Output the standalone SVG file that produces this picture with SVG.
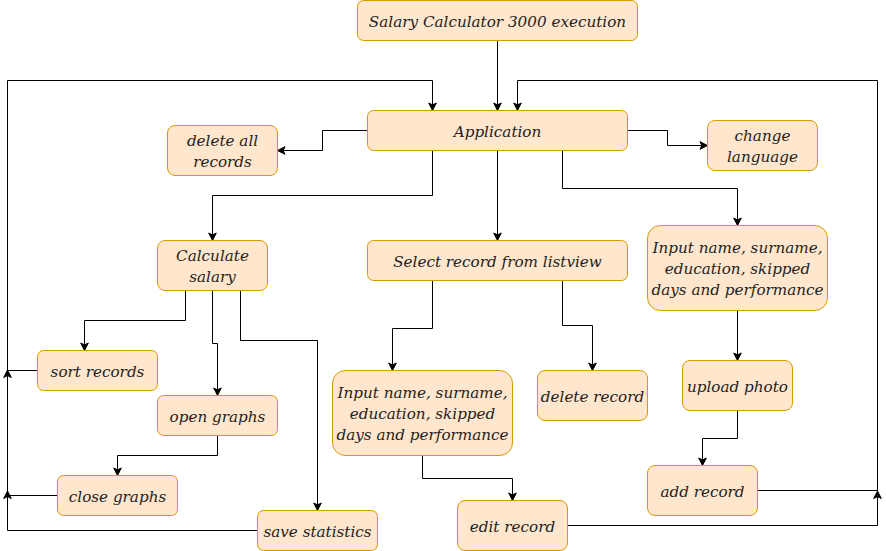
<svg xmlns="http://www.w3.org/2000/svg" width="886" height="551" viewBox="0 0 886 551">
<defs>
<marker id="arr" markerUnits="userSpaceOnUse" markerWidth="12" markerHeight="12" viewBox="-9 -6 12 12" refX="0" refY="0" orient="auto">
<path d="M0,0 L-7.5,-3.8 L-5.6,0 L-7.5,3.8 Z" fill="#000" stroke="#000" stroke-width="1"/>
</marker>
<style>
.n rect{fill:#ffe6cc;stroke:#d79b00;stroke-width:1}
.n text{font-family:"DejaVu Serif","Liberation Serif",serif;font-style:italic;font-size:15.2px;fill:#1e1e1e;text-anchor:middle}
#edges path{fill:none;stroke:#000;stroke-width:1;marker-end:url(#arr)}
</style>
</defs>
<rect width="886" height="551" fill="#fff"/>
<g id="edges">
<path d="M497.5,40.5 V110.5"/>
<path d="M257.5,530.5 H7.5 V80.5 H432.5 V110.5"/>
<path d="M757.5,490.5 H877.5 V80.5 H517.5 V110.5"/>
<path d="M367.5,130.5 H322.5 V150.5 H277.5"/>
<path d="M627.5,130.5 H667.5 V145.5 H707.5"/>
<path d="M432.5,150.5 V195.5 H212.5 V240.5"/>
<path d="M497.5,150.5 V240.5"/>
<path d="M562.5,150.5 V188.5 H737.5 V225.5"/>
<path d="M432.5,280.5 V328.5 H392.5 V370.5"/>
<path d="M562.5,280.5 V325.5 H592.5 V370.5"/>
<path d="M422.5,455.5 V478.5 H512.5 V500.5"/>
<path d="M737.5,310.5 V360.5"/>
<path d="M737.5,410.5 V438.5 H702.5 V465.5"/>
<path d="M185.5,290.5 V320.5 H84.5 V350.5"/>
<path d="M212.5,290.5 V343.5 H217.5 V395.5"/>
<path d="M240.5,290.5 V340.5 H317.5 V510.5"/>
<path d="M217.5,435.5 V455.5 H117.5 V475.5"/>
<path d="M37.5,370.5 H7.5 V370"/>
<path d="M57.5,495.5 H7.5 V491"/>
<path d="M567.5,525.5 H877.5 V491"/>
</g>
<g id="title" class="n"><rect x="357.5" y="0.5" width="280" height="40" rx="6"/><text x="497.5" y="26.5">Salary Calculator 3000 execution</text></g>
<g id="application" class="n"><rect x="367.5" y="110.5" width="260" height="40" rx="6"/><text x="497.5" y="136.5">Application</text></g>
<g id="delete-all" class="n"><rect x="167.5" y="125.5" width="110" height="50" rx="7.5"/><text x="222.5" y="146">delete all</text><text x="222.5" y="167">records</text></g>
<g id="change-language" class="n"><rect x="707.5" y="120.5" width="110" height="50" rx="7.5"/><text x="762.5" y="141">change</text><text x="762.5" y="162">language</text></g>
<g id="calculate-salary" class="n"><rect x="157.5" y="240.5" width="110" height="50" rx="7.5"/><text x="212.5" y="261">Calculate</text><text x="212.5" y="282">salary</text></g>
<g id="select-record" class="n"><rect x="367.5" y="240.5" width="260" height="40" rx="6"/><text x="497.5" y="266.5">Select record from listview</text></g>
<g id="input-new" class="n"><rect x="647.5" y="225.5" width="180" height="85" rx="12.75"/><text x="737.5" y="253">Input name, surname,</text><text x="737.5" y="274">education, skipped</text><text x="737.5" y="295">days and performance</text></g>
<g id="sort-records" class="n"><rect x="37.5" y="350.5" width="120" height="40" rx="6"/><text x="97.5" y="376.5">sort records</text></g>
<g id="open-graphs" class="n"><rect x="157.5" y="395.5" width="120" height="40" rx="6"/><text x="217.5" y="421.5">open graphs</text></g>
<g id="close-graphs" class="n"><rect x="57.5" y="475.5" width="120" height="40" rx="6"/><text x="117.5" y="501.5">close graphs</text></g>
<g id="save-statistics" class="n"><rect x="257.5" y="510.5" width="120" height="40" rx="6"/><text x="317.5" y="536.5">save statistics</text></g>
<g id="input-edit" class="n"><rect x="332.5" y="370.5" width="180" height="85" rx="12.75"/><text x="422.5" y="398">Input name, surname,</text><text x="422.5" y="419">education, skipped</text><text x="422.5" y="440">days and performance</text></g>
<g id="delete-record" class="n"><rect x="537.5" y="370.5" width="110" height="50" rx="7.5"/><text x="592.5" y="401.5">delete record</text></g>
<g id="edit-record" class="n"><rect x="457.5" y="500.5" width="110" height="50" rx="7.5"/><text x="512.5" y="531.5">edit record</text></g>
<g id="upload-photo" class="n"><rect x="682.5" y="360.5" width="110" height="50" rx="7.5"/><text x="737.5" y="391.5">upload photo</text></g>
<g id="add-record" class="n"><rect x="647.5" y="465.5" width="110" height="50" rx="7.5"/><text x="702.5" y="496.5">add record</text></g>
</svg>
